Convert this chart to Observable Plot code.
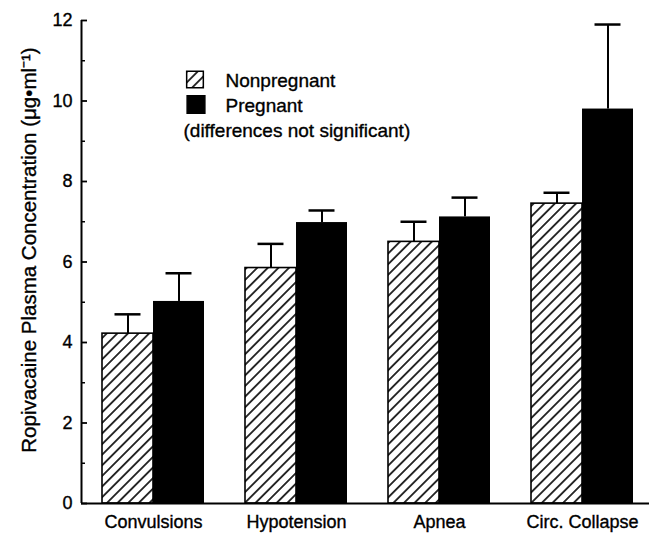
<!DOCTYPE html>
<html>
<head>
<meta charset="utf-8">
<script src="https://cdn.jsdelivr.net/npm/d3@7"></script>
<script src="https://cdn.jsdelivr.net/npm/@observablehq/plot@0.6"></script>
<style>
  html, body { margin: 0; padding: 0; background: white; }
  svg { display: block; }
  svg text { stroke: black; stroke-width: 0.35px; }
</style>
</head>
<body>
<div id="chart"></div>
<script>
const categories = ["Convulsions", "Hypotension", "Apnea", "Circ. Collapse"];
const groups = ["Nonpregnant", "Pregnant"];
const nonpregnant = [4.22, 5.85, 6.5, 7.45];
const pregnant = [5.02, 6.98, 7.12, 9.8];
const nonpregnantSD = [0.48, 0.6, 0.5, 0.27];
const pregnantSD = [0.7, 0.3, 0.48, 2.1];
const majorTicks = [0, 2, 4, 6, 8, 10, 12];
const minorTicks = [1, 3, 5, 7, 9, 11];
const yLabel = "Ropivacaine Plasma Concentration (μg•ml⁻¹)";
const note = "(differences not significant)";

const npRows = categories.map((c, i) => ({category: c, group: groups[0], value: nonpregnant[i], sd: nonpregnantSD[i]}));
const pRows = categories.map((c, i) => ({category: c, group: groups[1], value: pregnant[i], sd: pregnantSD[i]}));

const W = 649, H = 533, mL = 81, mR = 0, mT = 20, mB = 30;
const frameW = W - mL - mR;
const pInner = 0.2867, pOuter = 0.129;
const step = frameW / (categories.length - pInner + 2 * pOuter);
const bw = step * (1 - pInner);
const half = bw / 2;
const capW = 26;
const capInset = (half - capW) / 2;

const font = "'Liberation Sans', Arial, Helvetica, sans-serif";

const chart = Plot.plot({
  width: W, height: H,
  marginLeft: mL, marginRight: mR, marginTop: mT, marginBottom: mB,
  style: {fontFamily: font, background: "white", color: "black"},
  x: {type: "band", domain: categories, paddingInner: pInner, paddingOuter: pOuter, align: 0.57, label: null},
  y: {domain: [0, 12], label: null},
  marks: [
    Plot.barY(npRows, {x: "category", y: "value", insetRight: half, fill: "url(#hatch)", stroke: "black", strokeWidth: 1.6}),
    Plot.barY(pRows, {x: "category", y: "value", insetLeft: half, fill: "black"}),
    Plot.ruleX(npRows, {x: "category", y1: "value", y2: d => d.value + d.sd, dx: -half / 2, stroke: "black", strokeWidth: 2}),
    Plot.ruleX(pRows, {x: "category", y1: "value", y2: d => d.value + d.sd, dx: half / 2, stroke: "black", strokeWidth: 2}),
    Plot.tickY(npRows, {x: "category", y: d => d.value + d.sd, insetLeft: capInset, insetRight: half + capInset, stroke: "black", strokeWidth: 2.5}),
    Plot.tickY(pRows, {x: "category", y: d => d.value + d.sd, insetLeft: half + capInset, insetRight: capInset, stroke: "black", strokeWidth: 2.5}),
    Plot.ruleY([0], {stroke: "black", strokeWidth: 2}),
    Plot.ruleX([0], {x: null, y1: 0, y2: 12, dx: -frameW / 2, stroke: "black", strokeWidth: 2}),
    Plot.ruleY(majorTicks, {y: d => d, insetRight: frameW - 6, stroke: "black", strokeWidth: 1.8}),
    Plot.ruleY(minorTicks, {y: d => d, insetRight: frameW - 4, stroke: "black", strokeWidth: 1.5}),
    Plot.axisY({ticks: majorTicks, tickSize: 0, tickPadding: 9, fontSize: 18, label: null}),
    Plot.axisX({tickSize: 0, tickPadding: 12, fontSize: 18, label: null}),
    Plot.text([yLabel], {text: d => d, frameAnchor: "left", rotate: -90, dx: -52, dy: -12, fontSize: 20.5, textAnchor: "middle", fill: "black"}),
    // legend
    Plot.dot([groups[0]], {frameAnchor: "top-left", dx: 113.5, dy: 59, symbol: "square", r: 9.4, fill: "url(#hatch)", stroke: "black", strokeWidth: 1.5}),
    Plot.dot([groups[1]], {frameAnchor: "top-left", dx: 114.5, dy: 84, symbol: "square", r: 10, fill: "black", stroke: "black"}),
    Plot.text([groups[0]], {text: d => d, frameAnchor: "top-left", dx: 144, dy: 60, fontSize: 19, textAnchor: "start", lineAnchor: "middle", fill: "black"}),
    Plot.text([groups[1]], {text: d => d, frameAnchor: "top-left", dx: 144, dy: 85, fontSize: 19, textAnchor: "start", lineAnchor: "middle", fill: "black"}),
    Plot.text([note], {text: d => d, frameAnchor: "top-left", dx: 102, dy: 110, fontSize: 19, textAnchor: "start", lineAnchor: "middle", fill: "black"})
  ]
});

const svg = d3.select(chart);
const pat = svg.insert("defs", ":first-child").append("pattern")
  .attr("id", "hatch")
  .attr("patternUnits", "userSpaceOnUse")
  .attr("width", 7.5).attr("height", 7.5)
  .attr("patternTransform", "rotate(45)");
pat.append("rect").attr("width", 7.5).attr("height", 7.5).attr("fill", "white");
pat.append("line").attr("x1", 3.75).attr("y1", 0).attr("x2", 3.75).attr("y2", 7.5)
  .attr("stroke", "black").attr("stroke-width", 1.6);

document.getElementById("chart").appendChild(chart);
</script>
</body>
</html>
